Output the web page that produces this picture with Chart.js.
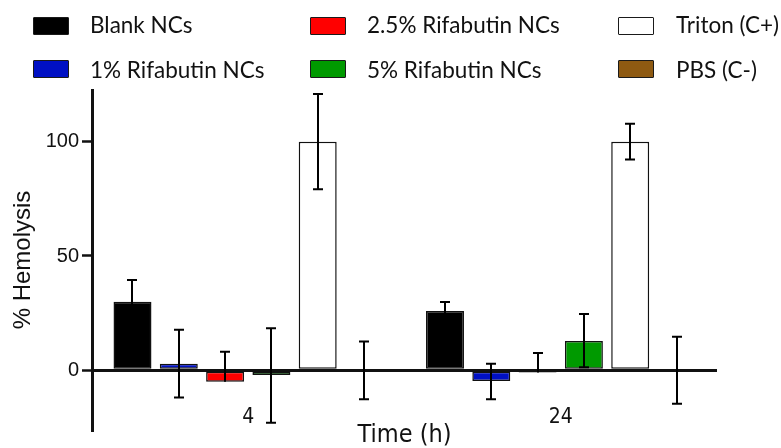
<!DOCTYPE html>
<html>
<head>
<meta charset="utf-8">
<script src="https://cdn.jsdelivr.net/npm/chart.js@4.4.1/dist/chart.umd.min.js"></script>
<style>
html, body { margin: 0; padding: 0; background: #fff; }
#wrap { position: relative; width: 781px; height: 448px; overflow: hidden; }
#c { position: absolute; left: 0; top: 0; }
.lgbox { position: absolute; box-sizing: border-box; border: 1.5px solid #1a1a1a; border-radius: 1px; }
.lgtext { position: absolute; font-family: Lato, "Open Sans", sans-serif; font-size: 22.5px; line-height: 26px; color: #111; white-space: nowrap; }
</style>
</head>
<body>
<div id="wrap">
  <canvas id="c" width="781" height="448"></canvas>
  <div id="legend"></div>
</div>
<script>
// ---- data ----
const categories = ['4', '24'];
const seriesNames = ['Blank NCs', '1% Rifabutin NCs', '2.5% Rifabutin NCs', '5% Rifabutin NCs', 'Triton (C+)', 'PBS (C-)'];
const blankNCs = [30.0, 25.9];
const rifabutin1 = [2.9, -4.7];
const rifabutin25 = [-5.0, -0.9];
const rifabutin5 = [-2.1, 12.8];
const tritonCPos = [100, 100];
const pbsCNeg = [0, 0];
// error bars (upper / lower extent)
const blankErrUp = [9.5, 4.0],      blankErrDown = [9.5, 4.0];
const rif1ErrUp = [14.8, 7.6],      rif1ErrDown = [14.8, 7.9];
const rif25ErrUp = [13.1, 8.5],     rif25ErrDown = [0, 0];
const rif5ErrUp = [20.5, 11.8],     rif5ErrDown = [20.8, 11.5];
const tritonErrUp = [20.8, 7.8],    tritonErrDown = [20.8, 7.8];
const pbsErrUp = [12.6, 14.7],      pbsErrDown = [12.6, 14.6];
const yTickValues = [0, 50, 100];
const yMin = -26.1, yMax = 122.6;

// ---- styles ----
const colors = ['#000000', '#0010c4', '#ff0000', '#009a00', '#ffffff', '#8e5a12'];
const seriesValues = [blankNCs, rifabutin1, rifabutin25, rifabutin5, tritonCPos, pbsCNeg];
const seriesErrUp = [blankErrUp, rif1ErrUp, rif25ErrUp, rif5ErrUp, tritonErrUp, pbsErrUp];
const seriesErrDown = [blankErrDown, rif1ErrDown, rif25ErrDown, rif5ErrDown, tritonErrDown, pbsErrDown];

const datasets = seriesNames.map((name, i) => ({
  label: name,
  data: seriesValues[i],
  errUp: seriesErrUp[i],
  errDown: seriesErrDown[i],
  backgroundColor: colors[i],
  borderColor: '#111',
  borderWidth: 1.5,
  borderSkipped: false
}));

const errorBarPlugin = {
  id: 'errorBars',
  afterDatasetsDraw(chart) {
    const ctx = chart.ctx;
    const ys = chart.scales.y;
    chart.data.datasets.forEach((ds, i) => {
      const meta = chart.getDatasetMeta(i);
      meta.data.forEach((bar, j) => {
        const v = ds.data[j];
        const up = ds.errUp[j], dn = ds.errDown[j];
        const x = Math.round(bar.x);
        const yTop = ys.getPixelForValue(v + up);
        const yBot = ys.getPixelForValue(v - dn);
        ctx.save();
        ctx.strokeStyle = '#000';
        ctx.lineWidth = 2;
        ctx.beginPath();
        ctx.moveTo(x, yTop); ctx.lineTo(x, yBot);
        if (up > 0) { ctx.moveTo(x - 5, yTop); ctx.lineTo(x + 5, yTop); }
        if (dn > 0) { ctx.moveTo(x - 5, yBot); ctx.lineTo(x + 5, yBot); }
        ctx.stroke();
        ctx.restore();
      });
    });
  }
};

const chart = new Chart(document.getElementById('c'), {
  type: 'bar',
  data: { labels: categories, datasets: datasets },
  plugins: [errorBarPlugin],
  options: {
    responsive: false,
    animation: false,
    devicePixelRatio: 1,
    layout: { padding: { left: 0, right: 64, top: 90, bottom: 0 } },
    plugins: { legend: { display: false }, tooltip: { enabled: false } },
    datasets: { bar: { categoryPercentage: 0.889, barPercentage: 0.82 } },
    scales: {
      x: {
        grid: { display: false, drawTicks: false },
        border: { display: false },
        ticks: {
          font: { family: '"DejaVu Sans Condensed", "DejaVu Sans", sans-serif', size: 21, lineHeight: 1.2 },
          color: '#111', padding: 0, mirror: true, maxRotation: 0, autoSkip: false
        },
        title: {
          display: true, text: 'Time (h)',
          font: { family: '"DejaVu Sans Condensed", "DejaVu Sans", sans-serif', size: 25, lineHeight: 1 },
          color: '#111', padding: 0
        },
        afterFit(s) { s.height = 18; }
      },
      y: {
        min: yMin, max: yMax,
        z: 1,
        afterBuildTicks(s) { s.ticks = yTickValues.map(v => ({ value: v })); },
        grid: {
          color: c => (c.tick && c.tick.value === 0) ? '#111' : 'rgba(0,0,0,0)',
          lineWidth: c => (c.tick && c.tick.value === 0) ? 3 : 1,
          tickColor: '#111', tickWidth: 2.5, tickLength: 10, drawOnChartArea: true
        },
        border: { display: true, color: '#111', width: 3 },
        ticks: { font: { family: '"Liberation Sans", Arial, sans-serif', size: 20 }, color: '#111', padding: 3 },
        title: {
          display: true, text: '% Hemolysis',
          font: { family: '"Liberation Sans", Arial, sans-serif', size: 24, lineHeight: 1 },
          color: '#111', padding: { top: 11, bottom: 0 }
        },
        afterFit(s) { s.width = 92; }
      }
    }
  }
});

// ---- legend (HTML, two rows x three columns, column-major) ----
const lgBoxLeft = [33, 310, 618], lgTextLeft = [90, 367, 676];
const lgBoxTop = [17, 60], lgTextTop = [12, 57];
const lg = document.getElementById('legend');
chart.data.datasets.forEach((ds, i) => {
  const col = Math.floor(i / 2), row = i % 2;
  const b = document.createElement('div');
  b.className = 'lgbox';
  b.style.left = lgBoxLeft[col] + 'px';
  b.style.top = lgBoxTop[row] + 'px';
  b.style.width = '36px';
  b.style.height = '18px';
  b.style.background = ds.backgroundColor;
  lg.appendChild(b);
  const t = document.createElement('div');
  t.className = 'lgtext';
  t.style.left = lgTextLeft[col] + 'px';
  t.style.top = lgTextTop[row] + 'px';
  t.textContent = ds.label;
  lg.appendChild(t);
});
</script>
</body>
</html>
